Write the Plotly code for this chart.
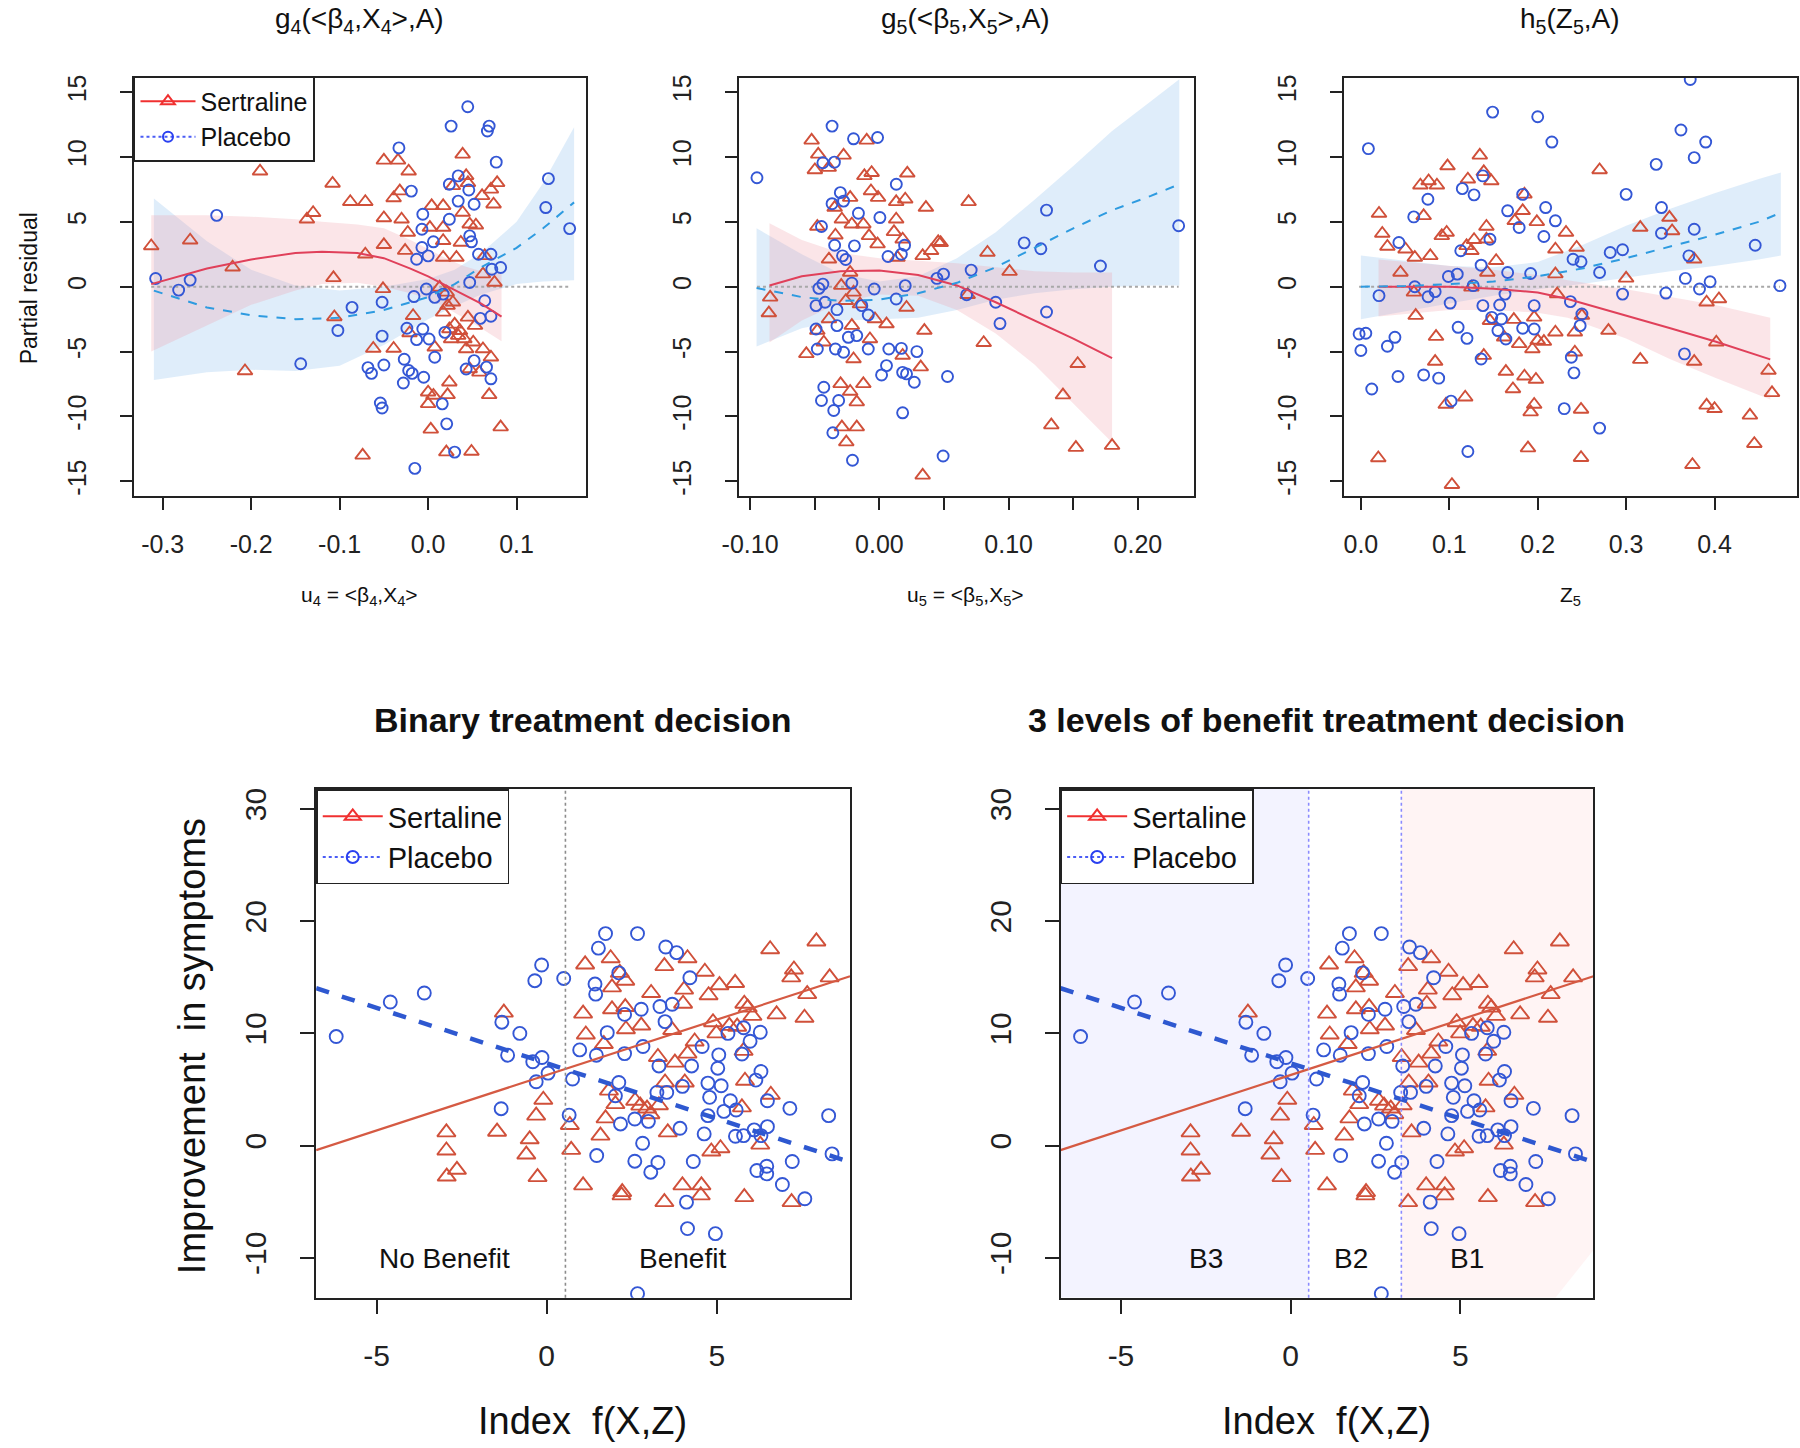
import plotly.graph_objects as go

FONT = "Liberation Sans, Arial, Helvetica, sans-serif"
RED_PT = "#D0503A"
BLUE_PT = "#3457D5"
RED_FIT = "#E0405A"
BLUE_FIT = "#2E9BE0"
PINK_BAND = "rgba(238,150,165,0.25)"
BLUE_BAND = "rgba(140,190,238,0.28)"

# ---------------- Panel 1: g4(<b4,X4>,A) ----------------
p1_sert_x = [-0.313, -0.269, -0.221, -0.19, -0.207, -0.137, -0.13, -0.108, -0.107, -0.106, -0.088, -0.071, -0.071, -0.074,
             -0.062, -0.05, -0.034, -0.022, -0.039, -0.032, -0.05, -0.03, -0.023, -0.05, -0.026, -0.051, -0.039, -0.017, -0.021,
             0.039, 0.043, 0.028, 0.045, 0.078, 0.071, 0.061, 0.074, 0.004, 0.017, 0.039, 0.002, 0.017, 0.047, 0.054, 0.017,
             0.037, 0.017, 0.032, 0.064, 0.062, 0.075, 0.013, 0.021, 0.017, 0.022, 0.028, 0.045, 0.053, 0.024, 0.034, 0.026,
             0.041, 0.051, 0.0075, 0.062, 0.043, 0.071, 0.047, 0.058, 0.024, 0.0, 0.006, 0.022, 0.069, 0.0, 0.003, 0.082,
             0.0206, 0.049, 0.036, 0.03]
p1_sert_y = [3.14, 3.58, 1.5, 8.9, -6.5, 5.2, 5.7, 7.96, 0.68, -2.33, 6.55, 6.55, 2.5, -13.0,
             -4.76, 9.74, 9.74, 8.9, 6.84, 7.37, 5.3, 5.2, 4.18, 3.23, 2.78, -0.17, -4.76, -2.24, -3.57,
             10.2, 8.54, 7.77, 8.0, 8.0, 7.5, 7.0, 6.36, 6.23, 6.23, 5.72, 4.56, 4.56, 4.82, 4.74, 3.54,
             3.41, 2.25, 2.25, 2.38, 0.97, 0.33, -0.05, -0.44, -1.98, -1.46, -1.2, -2.36, -3.0, -3.26, -3.77, -4.03,
             -4.03, -4.28, -4.67, -4.8, -4.8, -5.44, -6.34, -6.6, -7.36, -8.13, -8.38, -8.34, -8.34, -9.03, -11.0, -10.82,
             -12.75, -12.7, -3.4, -2.9]
p1_plac_x = [-0.308, -0.282, -0.269, -0.239, -0.144, -0.102, -0.086, -0.068, -0.064, -0.05, -0.052, -0.052, -0.054, -0.052,
             -0.033, -0.019, -0.027, -0.028, -0.018, -0.016, -0.015, -0.005,
             0.0448, 0.026, 0.069, 0.067, 0.077, 0.136, 0.133, 0.16, 0.024, 0.034, 0.046, 0.034, 0.052, -0.006, 0.024,
             -0.007, 0.047, 0.049, 0.006, -0.007, -0.013, 0.0, 0.057, 0.071, 0.072, 0.082, 0.047, -0.002, 0.0075, 0.017,
             0.064, 0.071, 0.059, -0.024, -0.006, -0.013, 0.001, 0.019, 0.0075, 0.052, 0.043, 0.066, -0.022, 0.071,
             0.016, 0.021, 0.03]
p1_plac_y = [0.63, -0.26, 0.51, 5.5, -5.94, -3.37, -1.59, -6.24, -6.68, -6.03, -3.81, -1.2, -8.96, -9.35,
             10.7, 7.37, -5.59, -7.42, -6.68, -0.76, -14.0, -6.98,
             13.87, 12.38, 12.38, 12.0, 9.6, 8.33, 6.1, 4.48, 7.9, 8.54, 7.46, 6.6, 6.36, 5.59, 5.2,
             4.43, 3.92, 3.46, 3.46, 3.02, 2.12, 2.38, 2.5, 2.5, 1.35, 1.48, 0.33, -0.18, -0.82, -0.57,
             -1.08, -2.28, -2.44, -3.2, -3.26, -4.08, -4.03, -3.52, -5.44, -5.7, -6.34, -6.2, -6.46, -7.1,
             -9.03, -10.57, -12.75]
p1_sert_fit_x = [-0.313, -0.25, -0.2, -0.15, -0.12, -0.08, -0.05, -0.02, 0.0, 0.02, 0.04, 0.06, 0.083]
p1_sert_fit = [0.2, 1.4, 2.1, 2.6, 2.7, 2.6, 2.2, 1.4, 0.8, 0.1, -0.6, -1.3, -2.3]
p1_sert_up = [5.5, 5.5, 5.4, 5.2, 5.0, 4.8, 4.5, 3.6, 2.9, 2.2, 1.6, 1.2, 1.0]
p1_sert_lo = [-5.0, -3.0, -1.4, -0.3, 0.2, 0.3, 0.0, -0.5, -0.9, -1.6, -2.4, -3.2, -4.2]
p1_plac_fit_x = [-0.31, -0.25, -0.2, -0.15, -0.1, -0.05, 0.0, 0.03, 0.06, 0.1, 0.13, 0.165]
p1_plac_fit = [-0.3, -1.6, -2.2, -2.5, -2.4, -1.8, -0.8, 0.2, 1.5, 3.0, 4.5, 6.5]
p1_plac_up = [6.8, 3.5, 1.3, 0.1, -0.3, 0.0, 0.6, 1.3, 2.6, 5.0, 8.0, 12.3]
p1_plac_lo = [-7.2, -6.6, -6.4, -6.5, -6.1, -4.5, -2.5, -1.5, -0.6, 0.2, 0.4, 0.5]

# ---------------- Panel 2: g5(<b5,X5>,A) ----------------
p2_sert_x = [-0.0524, -0.0098, -0.0473, -0.0277, -0.0499, -0.0392, -0.0116, -0.006, 0.0216, -0.0065, -0.0226, -0.001,
             0.013, 0.02, 0.036, 0.069, -0.0346, -0.029, -0.0213, -0.0124, 0.013, 0.0113, -0.048, -0.034, -0.008,
             -0.0014, 0.018, 0.0455, 0.04, 0.0335, -0.039, 0.014, -0.0226, -0.0295, -0.02, -0.0845, -0.0855, -0.026,
             -0.015, 0.021, -0.039, -0.0034, 0.0055, -0.048, -0.0213, 0.0348, -0.043, -0.0073, -0.0565, -0.02, 0.018,
             0.032, -0.03, -0.0124, -0.0226, -0.0175, -0.029, -0.0175, -0.0256, 0.0335,
             0.0836, 0.1007, 0.0474, 0.0807, 0.0683, 0.1534, 0.142, 0.133, 0.152, 0.18]
p2_sert_y = [11.28, 11.28, 10.2, 10.12, 9.0, 9.18, 8.54, 8.79, 8.74, 7.38, 6.87, 6.87,
             6.54, 6.74, 6.1, 6.54, 6.1, 5.2, 4.82, 4.82, 5.2, 4.23, 4.64, 3.97, 3.92,
             3.28, 3.66, 3.46, 2.77, 2.38, 2.12, 2.25, 1.1, 0.08, -0.44, -0.82, -2.03, -1.08,
             -1.34, -1.6, -2.49, -2.49, -2.88, -3.38, -3.0, -3.38, -4.28, -4.03, -5.18, -5.57, -5.3,
             -6.2, -7.49, -7.49, -8.08, -8.9, -10.82, -10.82, -11.98, -14.54,
             2.64, 1.16, 3.38, -4.32, -0.62, -5.94, -8.36, -10.67, -12.4, -12.25]
p2_plac_x = [-0.0947, -0.0366, -0.02, -0.0014, -0.0348, -0.0437, 0.0131, -0.0302, -0.0366, -0.0277, -0.0162, 0.0004,
             -0.0448, -0.0346, -0.0193, -0.0285, -0.026, 0.0067, 0.0195, 0.017, 0.0496, 0.0445, 0.071, -0.0468, -0.0437,
             -0.0213, -0.004, 0.02, 0.013, -0.049, -0.042, -0.0328, -0.0136, -0.0086, -0.049, -0.0328, -0.024, -0.0175,
             -0.048, -0.034, -0.0277, -0.0086, 0.0073, 0.017, 0.029, 0.0055, 0.0017, 0.018, 0.021, 0.027, 0.0527,
             -0.043, -0.0448, -0.0315, -0.0353, 0.018, -0.036, -0.0208, 0.0493,
             0.2315, 0.1293, 0.112, 0.1249, 0.171, 0.09, 0.1293, 0.0933, 0.0675]
p2_plac_y = [8.4, 12.38, 11.4, 11.5, 9.6, 9.56, 7.9, 7.25, 6.4, 6.6, 5.66, 5.33,
             4.64, 3.2, 3.15, 2.38, 2.1, 2.33, 3.2, 2.5, 0.97, 0.64, 1.28, -0.13, 0.2,
             0.28, -0.18, 0.08, -0.95, -1.46, -1.2, -1.77, -1.46, -2.18, -3.26, -3.0, -3.9, -3.77,
             -4.8, -4.8, -5.05, -4.8, -4.8, -4.75, -5.0, -6.08, -6.8, -6.6, -6.72, -7.36, -6.92,
             -7.75, -8.77, -8.77, -9.54, -9.72, -11.26, -13.38, -13.05,
             4.7, 5.9, 3.38, 2.93, 1.6, -1.2, -1.95, -2.84, -0.62]
p2_sert_fit_x = [-0.085, -0.06, -0.03, 0.0, 0.03, 0.06, 0.09, 0.12, 0.15, 0.18]
p2_sert_fit = [0.1, 0.8, 1.2, 1.25, 0.9, 0.1, -1.2, -2.6, -4.0, -5.5]
p2_sert_up = [4.9, 3.6, 2.6, 2.2, 2.0, 1.8, 1.5, 1.2, 1.1, 1.1]
p2_sert_lo = [-4.3, -2.6, -1.2, -0.6, -0.7, -1.8, -3.6, -6.0, -9.0, -12.0]
p2_plac_fit_x = [-0.095, -0.06, -0.03, 0.0, 0.03, 0.06, 0.09, 0.12, 0.15, 0.18, 0.21, 0.232]
p2_plac_fit = [-0.1, -0.8, -1.1, -1.0, -0.5, 0.3, 1.5, 3.0, 4.5, 5.9, 7.0, 7.9]
p2_plac_up = [4.5, 2.5, 1.0, 0.4, 0.8, 2.2, 4.2, 6.7, 9.3, 12.0, 14.3, 16.0]
p2_plac_lo = [-4.6, -3.2, -2.6, -2.5, -2.4, -1.8, -1.0, -0.5, -0.2, 0.0, 0.1, 0.1]

# ---------------- Panel 3: h5(Z5,A) ----------------
p3_sert_x = [0.1345, 0.098, 0.139, 0.121, 0.1475, 0.0766, 0.0673, 0.086, 0.0205, 0.071, 0.0242, 0.03, 0.0915, 0.097,
             0.1195, 0.125, 0.128, 0.142, 0.142, 0.185, 0.183, 0.174, 0.199, 0.232, 0.22, 0.0505, 0.061, 0.0785, 0.0448,
             0.153, 0.143, 0.22, 0.06, 0.125, 0.222, 0.062, 0.146, 0.173, 0.196, 0.085, 0.162, 0.179, 0.2, 0.207, 0.194,
             0.22, 0.139, 0.084, 0.164, 0.172, 0.185, 0.198, 0.118, 0.096, 0.196, 0.192, 0.189, 0.0197, 0.103,
             0.27, 0.316, 0.349, 0.352, 0.377, 0.3, 0.244, 0.391, 0.405, 0.25, 0.242, 0.28, 0.242, 0.316, 0.377, 0.402,
             0.461, 0.465, 0.391, 0.4, 0.44, 0.249, 0.445, 0.249, 0.375]
p3_sert_y = [10.12, 9.3, 8.85, 8.28, 8.15, 8.15, 7.82, 7.82, 5.64, 5.46, 4.1, 3.1, 3.92, 4.18,
             3.15, 2.77, 3.62, 3.66, 4.64, 7.12, 5.85, 5.08, 5.0, 4.18, 2.89, 2.89, 2.25, 2.38, 1.1,
             2.0, 1.1, 0.97, -0.44, -0.05, -0.57, -2.23, -2.62, -2.54, -2.36, -3.85, -3.9, -4.41, -4.15, -4.23, -4.8,
             -3.51, -5.31, -5.77, -6.54, -7.88, -6.9, -7.15, -8.52, -9.08, -9.08, -9.67, -12.44, -13.2, -15.26,
             9.0, 4.56, 5.33, 4.3, 2.12, 0.64, 3.02, -1.2, -0.95, -2.23, -3.51, -3.38, -5.05, -5.62, -5.77, -4.28,
             -6.46, -8.18, -9.15, -9.41, -9.92, -9.46, -12.1, -13.18, -13.72]
p3_plac_x = [0.0085, 0.149, 0.2, 0.216, 0.0758, 0.0598, 0.1147, 0.128, 0.138, 0.183, 0.166, 0.209, 0.22, 0.179, 0.207,
             0.043, 0.113, 0.146, 0.136, 0.166, 0.192, 0.099, 0.109, 0.061, 0.0205, 0.084, 0.076, 0.101, 0.127, 0.163,
             0.157, 0.196, 0.138, 0.148, 0.159, 0.155, 0.164, 0.183, 0.196, 0.11, 0.12, -0.002, 0.0056, 0.0, 0.0385,
             0.03, 0.136, 0.042, 0.071, 0.088, 0.0123, 0.102, 0.23, 0.121,
             0.3725, 0.362, 0.39, 0.377, 0.334, 0.3, 0.34, 0.34, 0.377, 0.446, 0.282, 0.296, 0.24, 0.249, 0.27, 0.371,
             0.367, 0.395, 0.383, 0.474, 0.296, 0.345, 0.237, 0.25, 0.248, 0.238, 0.241, 0.366, 0.27]
p3_plac_y = [10.64, 13.46, 13.1, 11.15, 6.74, 5.38, 7.56, 7.08, 8.54, 7.12, 5.85, 6.1, 5.08, 4.56, 3.87,
             3.41, 2.77, 3.66, 1.66, 1.1, 1.02, 0.79, 0.97, 0.0, -0.69, -0.38, -0.77, -1.26, 0.08, -0.57,
             -1.41, -1.46, -1.46, -2.36, -2.49, -3.38, -4.03, -3.2, -3.26, -3.13, -3.98, -3.64, -3.59, -4.92, -3.9,
             -4.59, -5.57, -6.92, -6.8, -7.05, -7.88, -8.82, -9.4, -12.7,
             15.97, 12.08, 11.15, 9.95, 9.43, 7.12, 6.1, 4.12, 4.43, 3.2, 2.64, 2.85, 2.12, 1.92, 1.1, 2.38,
             0.64, 0.38, -0.18, 0.08, -0.57, -0.49, -1.15, -2.1, -3.0, -5.44, -6.64, -5.18, -10.9]
p3_sert_fit_x = [0.02, 0.1, 0.15, 0.2, 0.234, 0.3, 0.35, 0.4, 0.463]
p3_sert_fit = [0.0, 0.0, -0.15, -0.45, -0.95, -2.2, -3.2, -4.2, -5.6]
p3_sert_up = [2.1, 1.6, 1.3, 0.9, 0.5, -0.2, -0.8, -1.4, -2.4]
p3_sert_lo = [-2.3, -1.8, -1.8, -2.0, -2.4, -4.0, -5.6, -7.0, -8.7]
p3_plac_fit_x = [0.0, 0.05, 0.1, 0.15, 0.2, 0.25, 0.3, 0.35, 0.4, 0.45, 0.475]
p3_plac_fit = [0.0, 0.05, 0.2, 0.4, 0.8, 1.4, 2.2, 3.1, 4.0, 5.0, 5.7]
p3_plac_up = [2.4, 2.0, 1.6, 1.5, 1.9, 3.2, 4.7, 6.0, 7.2, 8.3, 8.8]
p3_plac_lo = [-2.5, -1.9, -1.3, -0.7, -0.2, 0.2, 0.7, 1.2, 1.6, 2.1, 2.4]

# ---------------- Bottom panels: Index f(X,Z) ----------------
idx_sert_x = [-1.26, -2.95, -2.95, -2.64, -2.94, -1.46, -0.5, -0.6, -0.27, -0.31, -0.1, 0.68, 0.72, 1.07, 1.13, 1.07, 1.15,
              7.93, 6.57, 1.88, 3.46, 4.14, 4.65, 7.27, 7.19, 8.32, 2.15, 2.31, 1.92, 3.07, 4.04, 5.08, 5.54, 4.76, 7.66,
              4.01, 5.81, 5.91, 6.05, 6.76, 7.58, 1.92, 2.31, 2.33, 2.78, 3.69, 4.89, 4.99, 5.37, 5.6, 1.68, 4.35, 5.79,
              3.27, 3.77, 4.14, 4.06, 3.48, 5.83, 1.83, 2.02, 2.6, 2.75, 2.95, 3.05, 3.3, 6.59, 5.74, 1.73, 1.58, 3.56,
              4.84, 5.11, 6.28, 2.22, 2.2, 3.99, 4.55, 4.53, 3.46, 5.81, 7.2]
idx_sert_y = [11.85, 1.18, -0.44, -2.16, -2.76, 1.24, 0.56, -0.8, -2.81, 2.67, 4.09, 1.84, -0.38, -3.55, 16.15, 11.76, 9.9,
              18.2, 17.5, 16.7, 16.0, 16.7, 15.5, 15.7, 15.0, 15.0, 15.4, 14.7, 14.1, 13.6, 13.9, 14.3, 14.5, 13.4, 13.5,
              12.65, 12.65, 12.3, 11.56, 11.7, 11.4, 12.15, 12.35, 10.37, 10.7, 10.3, 11.0, 10.0, 10.67, 10.6, 9.05, 9.28, 8.44,
              7.9, 7.4, 8.2, 5.63, 5.63, 5.78, 4.9, 3.7, 4.0, 3.56, 3.3, 2.8, 3.6, 4.53, 3.41, 2.43, 0.89, 1.18,
              -0.53, -0.24, 0.09, -4.15, -4.44, -3.55, -3.55, -4.44, -5.04, -4.59, -5.04]
idx_plac_x = [-6.19, -4.6, -3.6, -0.15, -0.35, 0.5, -1.32, -0.79, -1.15, -0.41, -0.14, 0.04, -0.31, -1.34, 0.66, 0.76, 0.97,
              1.73, 2.67, 1.52, 3.5, 3.82, 4.21, 1.42, 1.44, 2.12, 2.78, 2.29, 3.33, 3.69, 3.48, 1.78, 2.83, 2.29, 1.46,
              3.3, 4.26, 4.57, 5.06, 5.03, 5.33, 5.79, 6.28, 5.98, 5.74, 6.3, 6.15, 2.12, 2.02, 3.24, 3.53, 3.99, 4.74,
              5.13, 4.79, 5.4, 5.21, 5.57, 4.74, 6.49, 7.15, 8.29, 6.49, 6.1, 5.79, 5.55, 6.3, 2.17, 2.59, 2.99, 3.92,
              4.63, 2.82, 1.47, 2.59, 3.27, 3.06, 4.31, 6.18, 6.47, 6.47, 7.22, 8.39, 6.93, 7.59, 4.11, 4.14, 4.96, 2.67]
idx_plac_y = [9.72, 12.8, 13.6, 16.1, 14.7, 14.9, 11.0, 10.0, 8.06, 7.47, 7.85, 6.46, 5.69, 3.29, 2.72, 5.93, 8.53,
              18.9, 18.9, 17.6, 17.7, 17.2, 14.96, 14.4, 13.5, 15.4, 12.15, 11.7, 12.4, 12.6, 11.05, 10.07, 8.83, 8.2, 8.06,
              7.1, 7.1, 8.83, 8.09, 6.9, 10.0, 10.5, 10.1, 9.3, 8.16, 6.6, 5.84, 5.63, 4.44, 4.74, 4.74, 5.28, 5.57,
              5.33, 4.3, 4.0, 3.05, 3.17, 2.67, 4.0, 3.32, 2.67, 1.69, 1.4, 0.89, 0.83, 0.89, 1.93, 2.37, 2.16, 1.54,
              1.04, 0.21, -0.89, -1.39, -1.51, -2.37, -1.42, -2.22, -1.84, -2.52, -1.42, -0.74, -3.47, -4.74, -5.04, -7.4, -7.85, -13.2]
# fitted straight lines (intercept, slope)
idx_sert_coef = [6.29, 0.987]
idx_plac_coef = [7.34, -0.987]
binary_cut = [0.55]
level_cuts = [0.53, 3.26]

# axis ranges
P1_X = [-0.3326, 0.178]
P2_X = [-0.1085, 0.2432]
P3_X = [-0.0187, 0.4933]
TOP_Y = [-16.13, 16.1]
BOT_X = [-6.78, 8.92]
BOT_Y = [-13.57, 31.8]

W, H = 1800, 1448


def xdom(l, r):
    return [l / W, r / W]


def ydom(t, b):
    return [1 - b / H, 1 - t / H]


fig = go.Figure()


def add_band(xa, ya, bx, up, lo, color):
    fig.add_trace(go.Scatter(x=bx + bx[::-1], y=up + lo[::-1], fill="toself", fillcolor=color,
                             line=dict(width=0), mode="lines", hoverinfo="skip", showlegend=False,
                             xaxis=xa, yaxis=ya))


def add_points(xa, ya, x, y, sym, color, size, lw):
    fig.add_trace(go.Scatter(x=x, y=y, mode="markers", showlegend=False, xaxis=xa, yaxis=ya,
                             marker=dict(symbol=sym, size=size, color=color,
                                         line=dict(color=color, width=lw))))


def add_line(xa, ya, x, y, color, width, dash):
    fig.add_trace(go.Scatter(x=x, y=y, mode="lines", showlegend=False, xaxis=xa, yaxis=ya,
                             line=dict(color=color, width=width, dash=dash), hoverinfo="skip"))


top_panels = [
    ("x", "y", p1_sert_x, p1_sert_y, p1_plac_x, p1_plac_y,
     p1_sert_fit_x, p1_sert_fit, p1_sert_up, p1_sert_lo, p1_plac_fit_x, p1_plac_fit, p1_plac_up, p1_plac_lo),
    ("x2", "y2", p2_sert_x, p2_sert_y, p2_plac_x, p2_plac_y,
     p2_sert_fit_x, p2_sert_fit, p2_sert_up, p2_sert_lo, p2_plac_fit_x, p2_plac_fit, p2_plac_up, p2_plac_lo),
    ("x3", "y3", p3_sert_x, p3_sert_y, p3_plac_x, p3_plac_y,
     p3_sert_fit_x, p3_sert_fit, p3_sert_up, p3_sert_lo, p3_plac_fit_x, p3_plac_fit, p3_plac_up, p3_plac_lo),
]

for (xa, ya, sx, sy, px, py, sfx, sf, su, sl, pfx, pf, pu, pl) in top_panels:
    add_band(xa, ya, pfx, pu, pl, BLUE_BAND)
    add_band(xa, ya, sfx, su, sl, PINK_BAND)
    allx = sx + px
    add_line(xa, ya, [min(allx), max(allx)], [0, 0], "#A8A8A8", 2, "dot")
    add_points(xa, ya, sx, sy, "triangle-up-open", RED_PT, 13, 1.9)
    add_points(xa, ya, px, py, "circle-open", BLUE_PT, 11, 1.9)
    add_line(xa, ya, sfx, sf, RED_FIT, 2, "solid")
    add_line(xa, ya, pfx, pf, BLUE_FIT, 2, "dash")

# bottom panels
for xa, ya in [("x4", "y4"), ("x5", "y5")]:
    if xa == "x5":
        # shaded benefit regions (B3 lavender, B1 pink)
        fig.add_trace(go.Scatter(x=[BOT_X[0], level_cuts[0], level_cuts[0], BOT_X[0]],
                                 y=[BOT_Y[0], BOT_Y[0], BOT_Y[1], BOT_Y[1]], fill="toself",
                                 fillcolor="rgba(234,234,255,0.55)", line=dict(width=0), mode="lines",
                                 hoverinfo="skip", showlegend=False, xaxis=xa, yaxis=ya))
        fig.add_trace(go.Scatter(x=[level_cuts[1], 7.8, BOT_X[1], BOT_X[1], level_cuts[1]],
                                 y=[BOT_Y[0], BOT_Y[0], -9.3, BOT_Y[1], BOT_Y[1]], fill="toself",
                                 fillcolor="rgba(255,230,230,0.45)", line=dict(width=0), mode="lines",
                                 hoverinfo="skip", showlegend=False, xaxis=xa, yaxis=ya))
    add_points(xa, ya, idx_sert_x, idx_sert_y, "triangle-up-open", RED_PT, 16, 1.9)
    add_points(xa, ya, idx_plac_x, idx_plac_y, "circle-open", BLUE_PT, 13, 1.9)
    add_line(xa, ya, BOT_X, [idx_sert_coef[0] + idx_sert_coef[1] * v for v in BOT_X], "#D55A43", 2.2, "solid")
    add_line(xa, ya, BOT_X, [idx_plac_coef[0] + idx_plac_coef[1] * v for v in BOT_X], "#2E58D0", 4.5, "dash")

# legend-only traces
for leg, name, msz in [("legend", "Sertraline", 12), ("legend2", "Sertaline", 14), ("legend3", "Sertaline", 14)]:
    fig.add_trace(go.Scatter(x=[None], y=[None], mode="lines+markers", name=name, legend=leg,
                             line=dict(color="#F03030", width=2),
                             marker=dict(symbol="triangle-up-open", size=msz, color="#F03030",
                                         line=dict(color="#F03030", width=2))))
    fig.add_trace(go.Scatter(x=[None], y=[None], mode="lines+markers", name="Placebo", legend=leg,
                             line=dict(color="#4A5CF5", width=2, dash="dot"),
                             marker=dict(symbol="circle-open", size=msz - 2, color="#2A40F0",
                                         line=dict(color="#2A40F0", width=2))))

# vertical cut lines
shapes = []
for c in binary_cut:
    shapes.append(dict(type="line", xref="x4", yref="y4 domain", x0=c, x1=c, y0=0, y1=1,
                       line=dict(color="#8C8C8C", width=1.6, dash="dot")))
for c in level_cuts:
    shapes.append(dict(type="line", xref="x5", yref="y5 domain", x0=c, x1=c, y0=0, y1=1,
                       line=dict(color="#8A8AFF", width=1.6, dash="dot")))


def axis(dom, rng, tickvals, ticktext, anchor, fs, standoff, ticklen=12, angle=None):
    d = dict(domain=dom, range=rng, tickvals=tickvals, ticktext=ticktext, anchor=anchor,
             showline=True, mirror=True, linecolor="#222", linewidth=2,
             ticks="outside", ticklen=ticklen, tickwidth=2, tickcolor="#222",
             showgrid=False, zeroline=False, tickfont=dict(family=FONT, size=fs, color="#222"),
             ticklabelstandoff=standoff, fixedrange=True)
    if angle is not None:
        d["tickangle"] = angle
    return d


top_y_vals = [-15, -10, -5, 0, 5, 10, 15]
top_y_text = ["-15", "-10", "-5", "0", "5", "10", "15"]
TOPY = ydom(75, 494)
layout = dict(
    width=W, height=H, margin=dict(l=0, r=0, t=0, b=0),
    paper_bgcolor="white", plot_bgcolor="white",
    font=dict(family=FONT, color="#111"),
    xaxis=axis(xdom(118, 574), P1_X, [-0.3, -0.2, -0.1, 0.0, 0.1], ["-0.3", "-0.2", "-0.1", "0.0", "0.1"], "y", 25, 13),
    yaxis=axis(TOPY, TOP_Y, top_y_vals, top_y_text, "x", 25, 24, angle=-90),
    xaxis2=axis(xdom(729, 1188), P2_X, [-0.10, -0.05, 0.0, 0.05, 0.10, 0.15, 0.20],
                ["-0.10", "", "0.00", "", "0.10", "", "0.20"], "y2", 25, 13),
    yaxis2=axis(TOPY, TOP_Y, top_y_vals, top_y_text, "x2", 25, 24, angle=-90),
    xaxis3=axis(xdom(1340, 1797), P3_X, [0.0, 0.1, 0.2, 0.3, 0.4], ["0.0", "0.1", "0.2", "0.3", "0.4"], "y3", 25, 13),
    yaxis3=axis(TOPY, TOP_Y, top_y_vals, top_y_text, "x3", 25, 24, angle=-90),
    xaxis4=axis(xdom(302, 841), BOT_X, [-5, 0, 5], ["-5", "0", "5"], "y4", 30, 16, ticklen=14),
    yaxis4=axis(ydom(787.5, 1297.5), BOT_Y, [-10, 0, 10, 20, 30], ["-10", "0", "10", "20", "30"], "x4", 30, 22,
                ticklen=14, angle=-90),
    xaxis5=axis(xdom(1053.5, 1591.5), BOT_X, [-5, 0, 5], ["-5", "0", "5"], "y5", 30, 16, ticklen=14),
    yaxis5=axis(ydom(787.5, 1297.5), BOT_Y, [-10, 0, 10, 20, 30], ["-10", "0", "10", "20", "30"], "x5", 30, 22,
                ticklen=14, angle=-90),
    shapes=shapes,
    showlegend=True,
)


def legend_cfg(x, y, fs, iw):
    return dict(x=x, y=y, xref="paper", yref="paper", xanchor="left", yanchor="top",
                bordercolor="#222", borderwidth=1.6, bgcolor="white",
                font=dict(family=FONT, size=fs, color="#111"), tracegroupgap=0, itemwidth=iw)


layout["legend"] = legend_cfg(118 / W, 1 - 74 / H, 25, 55)
layout["legend2"] = legend_cfg(302 / W, 1 - 788 / H, 29, 60)
layout["legend3"] = legend_cfg(1053.5 / W, 1 - 788 / H, 29, 60)

ann = []


def txt(x, y, s, size, xref="paper", yref="paper", bold=False, angle=0):
    ann.append(dict(x=x, y=y, xref=xref, yref=yref, text=("<b>%s</b>" % s) if bold else s, showarrow=False,
                    font=dict(family=FONT, size=size, color="#111"), textangle=angle,
                    xanchor="center", yanchor="middle"))


# top titles
txt(346 / W, 1 - 18 / H, "g<sub>4</sub>(&lt;β<sub>4</sub>,X<sub>4</sub>&gt;,A)", 28)
txt(958 / W, 1 - 18 / H, "g<sub>5</sub>(&lt;β<sub>5</sub>,X<sub>5</sub>&gt;,A)", 28)
txt(1568 / W, 1 - 18 / H, "h<sub>5</sub>(Z<sub>5</sub>,A)", 28)
# top x labels
txt(346 / W, 1 - 594 / H, "u<sub>4</sub> = &lt;β<sub>4</sub>,X<sub>4</sub>&gt;", 21)
txt(958 / W, 1 - 594 / H, "u<sub>5</sub> = &lt;β<sub>5</sub>,X<sub>5</sub>&gt;", 21)
txt(1568 / W, 1 - 594 / H, "Z<sub>5</sub>", 21)
txt(13 / W, 1 - 286 / H, "Partial residual", 23, angle=-90)
# bottom titles
txt(571 / W, 1 - 718 / H, "Binary treatment decision", 34, bold=True)
txt(1322 / W, 1 - 718 / H, "3 levels of benefit treatment decision", 34, bold=True)
txt(571 / W, 1 - 1421 / H, "Index  f(X,Z)", 38)
txt(1322 / W, 1 - 1421 / H, "Index  f(X,Z)", 38)
txt(176 / W, 1 - 1045 / H, "Improvement  in symptoms", 38, angle=-90)
# region labels
txt(-3.0, -10.05, "No Benefit", 28, xref="x4", yref="y4")
txt(4.0, -10.05, "Benefit", 28, xref="x4", yref="y4")
txt(-2.5, -10.05, "B3", 28, xref="x5", yref="y5")
txt(1.77, -10.05, "B2", 28, xref="x5", yref="y5")
txt(5.2, -10.05, "B1", 28, xref="x5", yref="y5")
layout["annotations"] = ann

fig.update_layout(**layout)
fig.write_html("out.html", config={"displayModeBar": False},
               post_script="document.body.style.margin='0px';")
